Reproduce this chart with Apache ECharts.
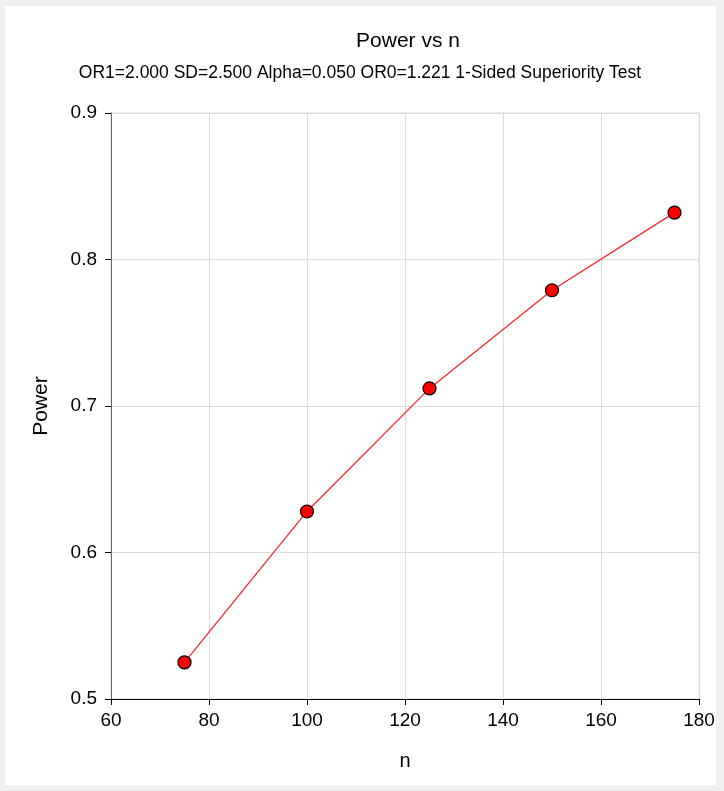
<!DOCTYPE html>
<html>
<head>
<meta charset="utf-8">
<script src="https://cdn.jsdelivr.net/npm/echarts@6/dist/echarts.min.js"></script>
<style>
  html, body { margin: 0; padding: 0; background: #efefef; }
  #panel { position: absolute; left: 5px; top: 6px; width: 711px; height: 779px; background: #fff; }
  #chart { position: absolute; left: 0; top: 0; width: 724px; height: 791px; }
</style>
</head>
<body>
<div id="panel"></div>
<div id="chart"></div>
<script>
// sample sizes and power
const nValues = [75, 100, 125, 150, 175];
const powerValues = [0.525, 0.628, 0.712, 0.779, 0.832];

const chart = echarts.init(document.getElementById('chart'), null, { renderer: 'canvas' });

const points = nValues.map((n, i) => [n, powerValues[i]]);

chart.setOption({
  backgroundColor: 'transparent',
  animation: false,
  textStyle: { fontFamily: 'Liberation Sans, Arial, sans-serif' },
  title: [{
    text: 'Power vs n',
    left: 408,
    top: 31,
    padding: 0,
    textAlign: 'center',
    textStyle: { fontSize: 21, fontWeight: 'normal', color: '#000' }
  }, {
    text: 'OR1=2.000 SD=2.500 Alpha=0.050 OR0=1.221 1-Sided Superiority Test',
    left: 360,
    top: 64,
    padding: 0,
    textAlign: 'center',
    textStyle: { fontSize: 17.5, fontWeight: 'normal', color: '#000' }
  }],
  grid: {
    left: 111,
    right: 25,
    top: 113,
    bottom: 92,
    show: true,
    borderColor: '#dcdcdc',
    borderWidth: 1
  },
  xAxis: {
    type: 'value',
    min: 60,
    max: 180,
    interval: 20,
    name: 'n',
    nameLocation: 'middle',
    nameGap: 52,
    nameTextStyle: { fontSize: 20, color: '#000' },
    axisLine: { show: true, onZero: false, lineStyle: { color: '#000', width: 1 } },
    axisTick: { show: true, length: 6, lineStyle: { color: '#000' } },
    axisLabel: { fontSize: 19, color: '#000', margin: 12 },
    splitLine: { show: true, lineStyle: { color: '#dcdcdc', width: 1 } }
  },
  yAxis: {
    type: 'value',
    min: 0.5,
    max: 0.9,
    interval: 0.1,
    name: 'Power',
    nameLocation: 'middle',
    nameGap: 59,
    nameTextStyle: { fontSize: 21, color: '#000' },
    axisLine: { show: true, onZero: false, lineStyle: { color: '#666', width: 1 } },
    axisTick: { show: true, length: 6, lineStyle: { color: '#000' } },
    axisLabel: { fontSize: 19, color: '#000', margin: 14, formatter: v => v.toFixed(1) },
    splitLine: { show: true, lineStyle: { color: '#dcdcdc', width: 1 } }
  },
  series: [{
    type: 'line',
    data: points,
    symbol: 'circle',
    symbolSize: 13,
    lineStyle: { color: '#ff2020', width: 1.2 },
    itemStyle: { color: '#ff0000', borderColor: '#000', borderWidth: 1.2 },
    emphasis: { disabled: true }
  }]
});
</script>
</body>
</html>
